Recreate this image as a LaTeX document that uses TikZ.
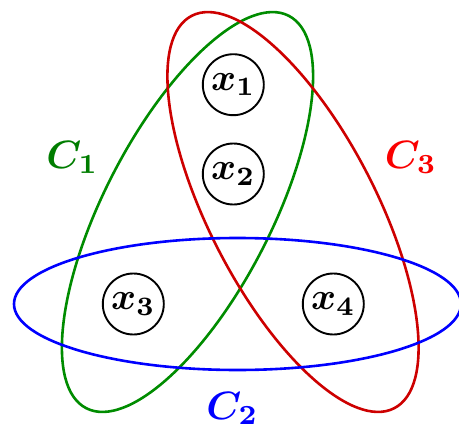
\documentclass[tikz,border=0pt]{standalone}
\usepackage{graphicx}
\definecolor{cgreen}{RGB}{0,140,0}
\definecolor{cgreenlab}{RGB}{0,125,0}
\definecolor{cred}{RGB}{205,0,0}
\definecolor{credlab}{RGB}{250,0,0}
\definecolor{cblue}{RGB}{0,0,255}
\newcommand{\vertlabel}[1]{\scalebox{3.8}{\boldmath$#1$}}
\newcommand{\edgelabel}[1]{\scalebox{3.95}{\boldmath$#1$}}
\begin{document}
\begin{tikzpicture}[x=1pt,y=-1pt,
  vert/.style={circle,draw=black,line width=1.9pt,minimum size=61pt,inner sep=0pt},
  hedge/.style={line width=2.6pt},
  hlabel/.style={anchor=base,inner sep=0pt}]
\useasboundingbox (0,0) rectangle (459,426);
\node[vert] (x1) at (233.3,84.7) {\vertlabel{x_1}};
\node[vert] (x2) at (233.3,174) {\vertlabel{x_2}};
\node[vert] (x3) at (133.3,304) {\vertlabel{x_3}};
\node[vert] (x4) at (333.3,304) {\vertlabel{x_4}};
\draw[hedge,cgreen,rotate around={62.7:(187.5,212)}] (187.5,212) ellipse [x radius=220.8pt, y radius=83.6pt];
\draw[hedge,cred,rotate around={-62.7:(293,212)}] (293,212) ellipse [x radius=220.8pt, y radius=83.6pt];
\draw[hedge,cblue] (237.5,304) ellipse [x radius=223.5pt, y radius=66pt];
\node[hlabel,text=cgreenlab] (c1) at (72.5,168) {\edgelabel{C_1}};
\node[hlabel,text=credlab] (c3) at (411,168) {\edgelabel{C_3}};
\node[hlabel,text=cblue] (c2) at (232.5,419) {\edgelabel{C_2}};
\end{tikzpicture}
\end{document}
